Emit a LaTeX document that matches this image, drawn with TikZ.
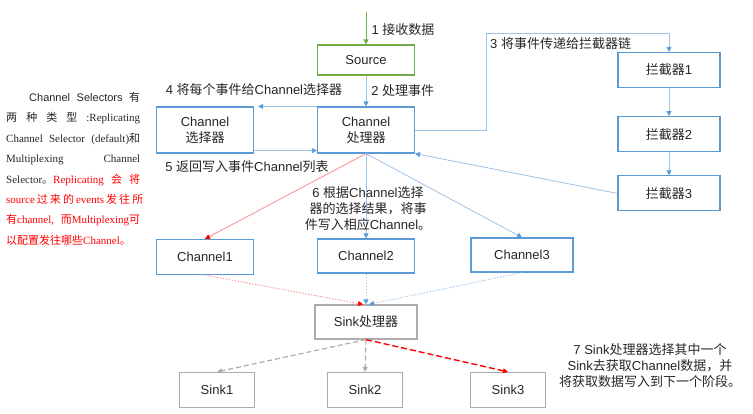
\documentclass[tikz,border=0pt]{standalone}
\usepackage{fontspec}
\setmainfont{Liberation Sans}
\newfontfamily\cjk{Noto Sans CJK SC}
\newfontfamily\rmlat{Liberation Serif}
\newcommand\zh[1]{{\cjk #1}}
\usetikzlibrary{arrows.meta,calc,positioning}
\definecolor{boxblue}{RGB}{91,155,213}
\definecolor{lineblue}{RGB}{157,195,230}
\definecolor{srcgreen}{RGB}{112,173,71}
\definecolor{sinkgray}{RGB}{175,171,171}
\definecolor{txtgray}{RGB}{38,38,38}
\definecolor{lightred}{RGB}{255,140,140}

\begin{document}
\begin{tikzpicture}[
  x=1pt,y=-1pt,
  font=\fontsize{13}{16}\selectfont,
  >={Triangle[length=5pt,width=5pt]},
  block/.style={draw=boxblue,line width=1.2pt,minimum width=97pt,minimum height=35pt,
                align=center,text=txtgray,inner sep=1pt},
  srcblock/.style={block,draw=srcgreen,minimum height=30pt},
  sinkblock/.style={block,draw=sinkgray},
  lbl/.style={text=txtgray,inner sep=1pt,align=center},
  flow/.style={draw=lineblue,line width=0.8pt,-{Triangle[length=5pt,width=5pt,color=boxblue]}},
  fine/.style={dash pattern=on 1.5pt off 1.5pt},
]
\useasboundingbox (0,0) rectangle (753,414);

%% ============================================================
%% Rows: source (y=60), processor (130), channels (256), sinks (390)
%% ============================================================

% --- Source and channel processor ---
\coordinate (in) at (366,12);
\node[srcblock] (source) at (366,60) {Source};
\node[block,minimum height=46pt] (chproc) at (366,130) {Channel\\\zh{处理器}};
\node[block,minimum height=46pt] (chsel) at (205,130) {Channel\\\zh{选择器}};

\draw[srcgreen,line width=1pt,->] (in) -- node[lbl,pos=0.55,right=4pt] (l1) {1 \zh{接收数据}} (source.north);
\draw[flow] (source.south) -- node[lbl,right=4pt] (l2) {2 \zh{处理事件}} (chproc.north);

% --- Channel selector round trip ---
\draw[flow] (chproc.north west) -- ([xshift=4pt]chsel.north east);
\draw[flow] ([yshift=3pt]chsel.south east) -- ([yshift=3pt]chproc.south west);
\node[lbl] (l4) at (254,90) {4 \zh{将每个事件给}Channel\zh{选择器}};
\node[lbl] (l5) at (247,167) {5 \zh{返回写入事件}Channel\zh{列表}};

% --- Interceptor chain (right) ---
\node[block,minimum width=102pt] (icpt1) at (669,70) {\zh{拦截器}1};
\node[block,minimum width=102pt,below=28pt of icpt1] (icpt2) {\zh{拦截器}2};
\node[block,minimum width=102pt,below=23pt of icpt2] (icpt3) {\zh{拦截器}3};

\coordinate (c3) at (486,33);
\draw[flow] (chproc.east) -| (c3) -| (icpt1.north);
\node[lbl,anchor=west] (l3) at (489,44) {3 \zh{将事件传递给拦截器链}};
\draw[flow] (icpt1) -- (icpt2);
\draw[flow] (icpt2) -- (icpt3);
\draw[flow] (icpt3.west) -- (chproc.south east);

% --- Channels ---
\node[block] (ch1) at (205,257) {Channel1};
\node[block,minimum height=34pt] (ch2) at (366,256) {Channel2};
\node[block,minimum width=102pt,minimum height=34pt] (ch3) at (522,255) {Channel3};

\draw[lightred,line width=0.8pt,-{Triangle[length=5pt,width=5pt,color=red]}] (chproc.south) -- (ch1.north);
\draw[flow] (chproc.south) -- (ch2.north);
\draw[flow] (chproc.south) -- (ch3.north);
\node[lbl] (l6) at (368,209)
  {6 \zh{根据}Channel\zh{选择}\\\zh{器的选择结果，将事}\\\zh{件写入相应}Channel\zh{。}};

% --- Sink processor and sinks ---
\node[sinkblock,minimum width=102pt,minimum height=34pt] (sinkproc) at (366,322) {Sink\zh{处理器}};
\node[sinkblock,minimum width=75pt] (sink1) at (217,390) {Sink1};
\node[sinkblock,minimum width=75pt] (sink2) at (365,390) {Sink2};
\node[sinkblock,minimum width=75pt] (sink3) at (508,390) {Sink3};

\draw[lightred,fine,line width=0.8pt,-{Triangle[length=5pt,width=5pt,color=red]}]
  (ch1.south) -- ([xshift=-3pt]sinkproc.north);
\draw[flow,fine] (ch2.south) -- (sinkproc.north);
\draw[flow,fine] (ch3.south) -- ([xshift=3pt]sinkproc.north);

\draw[sinkgray,line width=1.2pt,dash pattern=on 5pt off 3pt,->] (sinkproc.south) -- (sink1.north);
\draw[sinkgray,line width=1.2pt,dash pattern=on 5pt off 3pt,->] (sinkproc.south) -- (sink2.north);
\draw[red,line width=1.4pt,dash pattern=on 6pt off 3pt,->] (sinkproc.south) -- (sink3.north);

\node[lbl] (l7) at (650,366)
  {7 Sink\zh{处理器选择其中一个}\\Sink\zh{去获取}Channel\zh{数据，并}\\\zh{将获取数据写入到下一个阶段。}};

% --- Note on selector types (left) ---
\node[anchor=north west,inner sep=0pt,align=left,text=txtgray,
      font=\fontsize{11}{20.4}\selectfont] (note) at (6,92)
  {\makebox[134pt][s]{\hspace*{23pt}Channel Selectors \zh{有}}\\
   \makebox[134pt][s]{\zh{两} \zh{种} \zh{类} \zh{型} {\rmlat :Replicating}}\\
   \makebox[134pt][s]{\rmlat Channel Selector (default)\zh{和}}\\
   \makebox[134pt][s]{\rmlat Multiplexing Channel}\\
   \makebox[134pt][s]{{\rmlat Selector}\zh{。}\color{red}{\rmlat Replicating} \zh{会} \zh{将}}\\
   \color{red}\makebox[134pt][s]{{\rmlat source} \zh{过} \zh{来} \zh{的} {\rmlat events} \zh{发} \zh{往} \zh{所}}\\
   \color{red}\makebox[134pt][s]{\zh{有}{\rmlat channel,} \zh{而}{\rmlat Multiplexing}\zh{可}}\\
   \color{red}\zh{以配置发往哪些}{\rmlat Channel}\zh{。}};

\end{tikzpicture}
\end{document}
